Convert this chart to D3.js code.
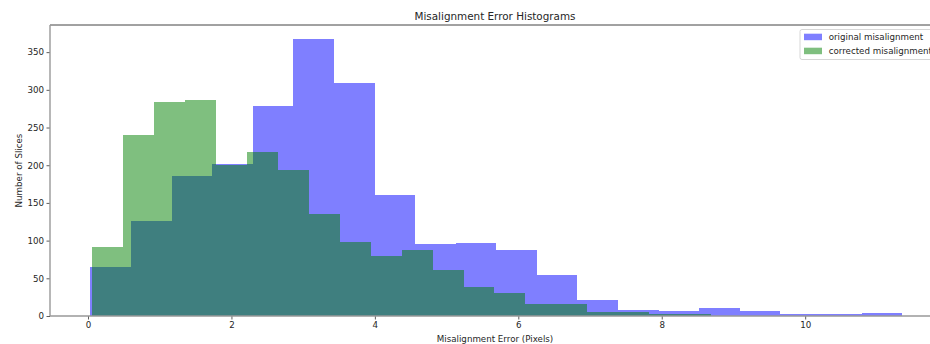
<!DOCTYPE html>
<html>
<head>
<meta charset="utf-8">
<script src="https://cdn.jsdelivr.net/npm/d3@7"></script>
<style>
  html, body { margin: 0; padding: 0; background: #fff; }
  svg { display: block; }
  text { font-family: "DejaVu Sans", sans-serif; fill: #262626; }
</style>
</head>
<body>
<svg id="chart" width="930" height="344"></svg>
<script>
// Histogram counts per bin (equal-width bins over each range)
const originalRange = [0.033, 11.353];
const originalCounts = [65, 126, 186, 202, 279, 367, 309, 161, 96, 97,
                        88, 54, 21, 8, 6, 11, 7, 2, 2, 4];
const correctedRange = [0.052, 8.692];
const correctedCounts = [91, 240, 284, 286, 200, 217, 194, 135, 98, 79,
                         88, 61, 38, 30, 16, 16, 5, 5, 3, 3];

const seriesNames = ["original misalignment", "corrected misalignment"];
const xTicks = [0, 2, 4, 6, 8, 10];
const yTicks = [0, 50, 100, 150, 200, 250, 300, 350];

const svg = d3.select("#chart");
const plotLeft = 50, plotRight = 940, plotTop = 25, plotBottom = 316;

const x = d3.scaleLinear().domain([-0.53, 11.88]).range([plotLeft, plotRight]);
const y = d3.scaleLinear().domain([0, 386]).range([plotBottom, plotTop]);

function toBins(range, counts) {
  const w = (range[1] - range[0]) / counts.length;
  return counts.map((c, i) => ({ x0: range[0] + i * w, x1: range[0] + (i + 1) * w, n: c }));
}

const series = [
  { name: seriesNames[0], color: "blue", bins: toBins(originalRange, originalCounts) },
  { name: seriesNames[1], color: "green", bins: toBins(correctedRange, correctedCounts) }
];

// Bars: original first, corrected drawn over it
series.forEach(s => {
  svg.append("g")
    .attr("shape-rendering", "crispEdges")
    .selectAll("rect")
    .data(s.bins)
    .join("rect")
    .attr("x", d => x(d.x0))
    .attr("y", d => y(d.n))
    .attr("width", d => x(d.x1) - x(d.x0))
    .attr("height", d => y(0) - y(d.n))
    .attr("fill", s.color)
    .attr("fill-opacity", 0.5);
});

// Axes
const xAxis = svg.append("g")
  .attr("transform", `translate(0,${plotBottom})`)
  .call(d3.axisBottom(x).tickValues(xTicks).tickFormat(d3.format("d")).tickSize(3.5).tickPadding(2.5));
const yAxis = svg.append("g")
  .attr("transform", `translate(${plotLeft},0)`)
  .call(d3.axisLeft(y).tickValues(yTicks).tickFormat(d3.format("d")).tickSize(3.5).tickPadding(2.5));

[xAxis, yAxis].forEach(g => {
  g.select(".domain").remove();
  g.selectAll(".tick line").attr("stroke", "#333").attr("stroke-width", 0.8);
  g.selectAll(".tick text")
    .attr("font-family", "DejaVu Sans, sans-serif")
    .attr("font-size", "8.7px")
    .attr("fill", "#262626");
});

// Spines
svg.append("line").attr("x1", plotLeft).attr("x2", plotRight).attr("y1", plotTop).attr("y2", plotTop)
  .attr("stroke", "#444").attr("stroke-width", 1);
svg.append("line").attr("x1", plotLeft).attr("x2", plotRight).attr("y1", plotBottom).attr("y2", plotBottom)
  .attr("stroke", "#999").attr("stroke-width", 1.4);
svg.append("line").attr("x1", plotLeft).attr("x2", plotLeft).attr("y1", plotTop).attr("y2", plotBottom)
  .attr("stroke", "#999").attr("stroke-width", 1.4);
svg.append("line").attr("x1", plotRight).attr("x2", plotRight).attr("y1", plotTop).attr("y2", plotBottom)
  .attr("stroke", "#999").attr("stroke-width", 1.4);

// Title and axis labels
const cx = (plotLeft + plotRight) / 2;
svg.append("text").attr("x", cx).attr("y", 20).attr("text-anchor", "middle")
  .attr("font-size", "10.4px").text("Misalignment Error Histograms");
svg.append("text").attr("x", cx).attr("y", 342).attr("text-anchor", "middle")
  .attr("font-size", "8.7px").text("Misalignment Error (Pixels)");
svg.append("text").attr("transform", `translate(21.5,${(plotTop + plotBottom) / 2}) rotate(-90)`)
  .attr("text-anchor", "middle").attr("font-size", "8.7px").text("Number of Slices");

// Legend (extends past the right edge of the figure)
const legend = svg.append("g").attr("transform", "translate(800,29.5)");
legend.append("rect").attr("width", 150).attr("height", 30).attr("rx", 2)
  .attr("fill", "#fff").attr("fill-opacity", 0.8).attr("stroke", "#ccc").attr("stroke-width", 0.8);
series.forEach((s, i) => {
  const row = legend.append("g").attr("transform", `translate(4,${4.2 + i * 14})`);
  row.append("rect").attr("width", 18).attr("height", 6.5)
    .attr("fill", s.color).attr("fill-opacity", 0.5);
  row.append("text").attr("x", 24.7).attr("y", 6.6).attr("font-size", "8.7px").text(s.name);
});
</script>
</body>
</html>
